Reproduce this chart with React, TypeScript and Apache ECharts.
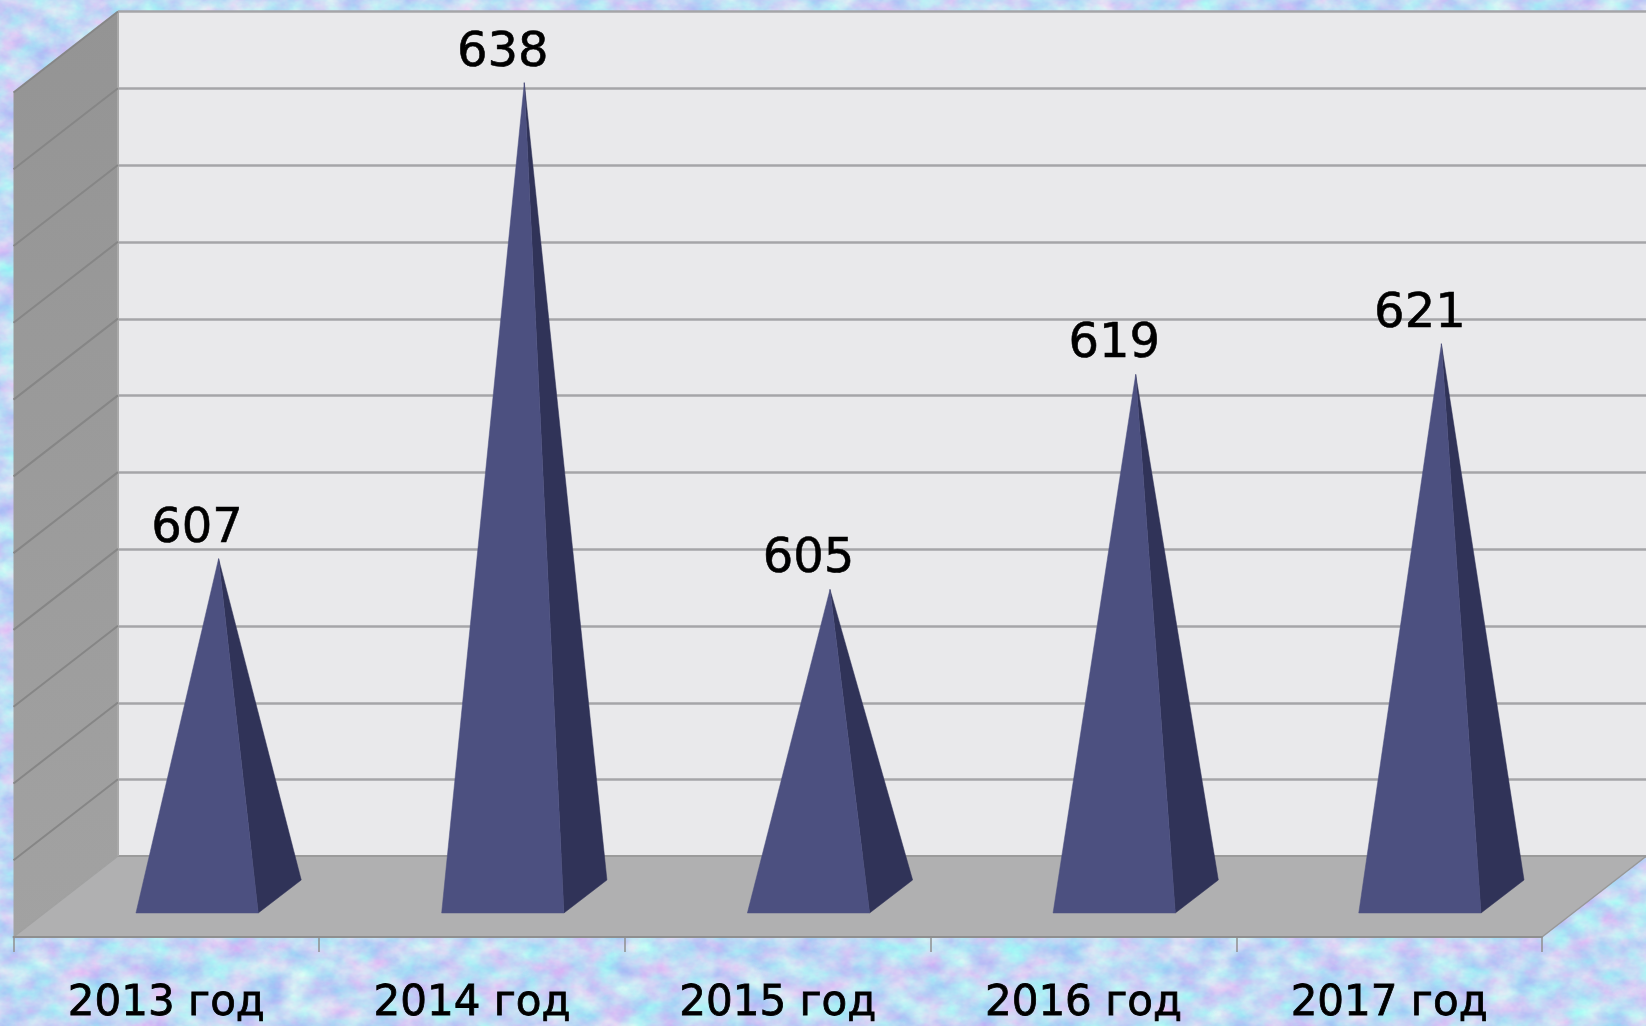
import React, { useEffect, useRef } from "react";
import * as echarts from "echarts";

const categories = ["2013 год", "2014 год", "2015 год", "2016 год", "2017 год"];
const values = [607, 638, 605, 619, 621];
const axisMin = 585;
const axisMax = 640;
const axisStep = 5;
const wallTicks = [590, 595, 600, 605, 610, 615, 620, 625, 630, 635, 640];

// Depth of the 3D box, in pixels, from the front plane to the back wall
const DX = 104.5;
const DY = -81;
const FONT = '"DejaVu Sans", sans-serif';

const noise = `<svg xmlns='http://www.w3.org/2000/svg' width='1646' height='1026'><filter id='n' x='0' y='0' width='100%' height='100%' color-interpolation-filters='sRGB'><feTurbulence type='fractalNoise' baseFrequency='0.035 0.05' numOctaves='4' seed='7'/><feColorMatrix values='0.42 0 0 0 0.55  0 0.36 0 0 0.67  0 0 0 0 0.96  0 0 0 0 1'/></filter><rect width='1646' height='1026' filter='url(#n)'/></svg>`;
const textureUrl = `url("data:image/svg+xml,${encodeURIComponent(noise)}")`;

export default function App() {
  const ref = useRef<HTMLDivElement>(null);
  useEffect(() => {
    document.body.style.margin = "0";
    document.body.style.overflow = "hidden";
    const chart = echarts.init(ref.current!, undefined, { renderer: "svg" });
    chart.setOption({
      animation: false,
      backgroundColor: "transparent",
      textStyle: { fontFamily: FONT },
      grid: [
        // front plane of the box
        { left: 13.5, right: 104, top: 92.5, bottom: 89, containLabel: false },
        // back wall
        {
          left: 118,
          right: -0.5,
          top: 11.5,
          bottom: 169.5,
          show: true,
          backgroundColor: "#e9e9eb",
          borderWidth: 0,
        },
      ],
      xAxis: [
        {
          type: "category",
          gridIndex: 0,
          data: categories,
          boundaryGap: true,
          axisLine: { show: true, lineStyle: { color: "#8f8f8f", width: 2 } },
          axisTick: { show: true, length: 15, lineStyle: { color: "#8f8f8f", width: 1.5 } },
          axisLabel: {
            color: "#000",
            fontSize: 42,
            fontFamily: FONT,
            margin: 42,
            textBorderColor: "#000",
            textBorderWidth: 0.8,
          },
          z: 6,
        },
        { type: "category", gridIndex: 1, data: categories, show: false },
      ],
      yAxis: [
        { type: "value", gridIndex: 0, min: axisMin, max: axisMax, interval: axisStep, show: false },
        {
          type: "value",
          gridIndex: 1,
          min: axisMin,
          max: axisMax,
          interval: axisStep,
          axisLine: { show: false },
          axisTick: { show: false },
          axisLabel: { show: false },
          splitLine: { show: true, lineStyle: { color: "#a5a5a8", width: 2.5 } },
        },
      ],
      series: [
        {
          // left wall and floor of the box
          type: "custom",
          xAxisIndex: 0,
          yAxisIndex: 0,
          silent: true,
          z: 1,
          data: [[0, axisMin]],
          renderItem: (params: any, api: any) => {
            const cs = params.coordSys;
            const yBottom = api.coord([0, axisMin])[1];
            const yTop = api.coord([0, axisMax])[1];
            const xL = cs.x;
            const xR = cs.x + cs.width;
            return {
              type: "group",
              children: [
                {
                  type: "polygon",
                  shape: { points: [[xL, yTop], [xL + DX, yTop + DY], [xL + DX, yBottom + DY], [xL, yBottom]] },
                  style: {
                    fill: new echarts.graphic.LinearGradient(0, 0, 0, 1, [
                      { offset: 0, color: "#949494" },
                      { offset: 1, color: "#a2a2a2" },
                    ]),
                  },
                },
                {
                  type: "polygon",
                  shape: { points: [[xL, yBottom], [xL + DX, yBottom + DY], [xR + DX, yBottom + DY], [xR, yBottom]] },
                  style: { fill: "#b0b0b1" },
                },
                {
                  type: "line",
                  shape: { x1: xL + DX, y1: yBottom + DY, x2: xR + DX, y2: yBottom + DY },
                  style: { stroke: "#9b9b9b", lineWidth: 2 },
                },
                {
                  type: "line",
                  shape: { x1: xL + DX, y1: yTop + DY, x2: xL + DX, y2: yBottom + DY },
                  style: { stroke: "#a9a9a9", lineWidth: 2 },
                },
                {
                  type: "line",
                  shape: { x1: xR, y1: yBottom, x2: xR + DX, y2: yBottom + DY },
                  style: { stroke: "#989898", lineWidth: 1.5 },
                },
                {
                  type: "line",
                  shape: { x1: xL, y1: yBottom, x2: xL + DX, y2: yBottom + DY },
                  style: { stroke: "#a0a0a0", lineWidth: 1.5 },
                },
              ],
            };
          },
        },
        {
          // diagonal gridlines on the left wall
          type: "custom",
          xAxisIndex: 0,
          yAxisIndex: 0,
          silent: true,
          z: 2,
          data: wallTicks.map((v) => [0, v]),
          renderItem: (params: any, api: any) => {
            const x = params.coordSys.x;
            const y = api.coord([0, api.value(1)])[1];
            return {
              type: "line",
              shape: { x1: x, y1: y, x2: x + DX, y2: y + DY },
              style: { stroke: "#868686", lineWidth: 2 },
            };
          },
        },
        {
          // pyramids
          type: "custom",
          name: "Значение",
          xAxisIndex: 0,
          yAxisIndex: 0,
          z: 5,
          data: values.map((v, i) => [i, v]),
          encode: { x: 0, y: 1 },
          renderItem: (_params: any, api: any) => {
            const slot = api.size([1, 0])[0];
            const cat = api.value(0);
            const val = api.value(1);
            const front = api.coord([cat, axisMin]);
            const mid = [DX / 2, DY / 2];
            const apex = api.coord([cat, val]);
            const ax = apex[0] + mid[0];
            const ay = apex[1] + mid[1];
            const halfW = slot * 0.2;
            const yFront = front[1] - 24;
            const xL = ax - 43 / 2 - halfW;
            const xR = ax - 43 / 2 + halfW;
            const xB = xR + 43;
            const yB = yFront - 33;
            return {
              type: "group",
              children: [
                {
                  type: "polygon",
                  shape: { points: [[xR, yFront], [xB, yB], [ax, ay]] },
                  style: { fill: "#303358", stroke: "#303358", lineWidth: 0.5 },
                },
                {
                  type: "polygon",
                  shape: { points: [[xL, yFront], [xR, yFront], [ax, ay]] },
                  style: { fill: "#4c5080", stroke: "#4c5080", lineWidth: 0.5 },
                },
                {
                  type: "text",
                  x: ax - 43 / 2,
                  y: ay - 34,
                  style: {
                    text: String(val),
                    fontSize: 48,
                    fontFamily: FONT,
                    fill: "#000",
                    stroke: "#000",
                    lineWidth: 0.6,
                    textAlign: "center",
                    textVerticalAlign: "middle",
                  },
                },
              ],
            };
          },
        },
      ],
    });
    return () => chart.dispose();
  }, []);
  return (
    <div
      style={{
        position: "fixed",
        left: 0,
        top: 0,
        width: 1646,
        height: 1026,
        backgroundColor: "#c5d8f4",
        backgroundImage: textureUrl,
        overflow: "hidden",
      }}
    >
      <div ref={ref} style={{ width: 1646, height: 1026, filter: "blur(0.6px)" }} />
    </div>
  );
}
